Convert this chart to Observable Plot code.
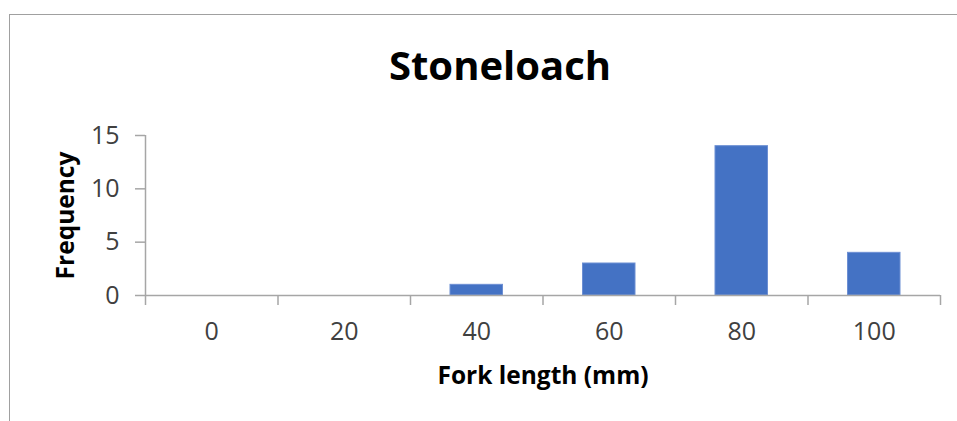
<!DOCTYPE html>
<html><head><meta charset="utf-8">
<script src="https://cdn.jsdelivr.net/npm/d3@7"></script>
<script src="https://cdn.jsdelivr.net/npm/@observablehq/plot@0.6"></script>
<style>
body{margin:0;background:#fff;overflow:hidden;}
#wrap{position:relative;width:957px;height:421px;overflow:hidden;}
#border{position:absolute;left:9px;top:14px;width:1000px;height:500px;border:1.5px solid #a0a0a0;box-sizing:border-box;}
#chart{position:absolute;left:0;top:0;}
</style></head><body>
<div id="wrap"><div id="border"></div><div id="chart"></div></div>
<script>
const title = "Stoneloach";
const xLabel = "Fork length (mm)";
const yLabel = "Frequency";
const categories = [0, 20, 40, 60, 80, 100];
const frequency = [0, 0, 1, 3, 14, 4];
const yTicks = [0, 5, 10, 15];
const binEdges = [-10, 10, 30, 50, 70, 90, 110];
const binHalf = 10;

const data = categories.map((c, i) => ({bin: c, freq: frequency[i]}));
const axisColor = "#a6a6a6";
const tickText = "#404040";

const plot = Plot.plot({
  width: 957, height: 421,
  marginLeft: 145, marginRight: 17, marginTop: 135, marginBottom: 126,
  style: {fontFamily: "'Open Sans', sans-serif", background: "transparent", overflow: "visible"},
  x: {domain: [binEdges[0], binEdges[binEdges.length - 1]]},
  y: {domain: [0, 15]},
  marks: [
    Plot.rectY(data.filter(d => d.freq > 0), {x1: d => d.bin - binHalf, x2: d => d.bin + binHalf, y: "freq",
      fill: "#4472C4", stroke: "#6d8fd3", strokeWidth: 1, insetLeft: 40, insetRight: 40}),
    Plot.ruleY([0], {stroke: axisColor, strokeWidth: 1.5}),
    Plot.ruleX([binEdges[0]], {y1: 0, y2: 15, stroke: axisColor, strokeWidth: 1.5}),
    Plot.axisY({ticks: yTicks, tickSize: 10, tickPadding: 16, fontSize: 25, stroke: axisColor, fill: tickText, strokeWidth: 1.5, label: null}),
    Plot.axisX({ticks: binEdges, tickSize: 10, tickFormat: () => "", stroke: axisColor, strokeWidth: 1.5, label: null}),
    Plot.axisX({ticks: categories, tickSize: 0, tickPadding: 27, fontSize: 25, fill: tickText, label: null}),
    Plot.text([title], {frameAnchor: "top", lineAnchor: "middle", dy: -68, dx: -43, fontSize: 40, fontWeight: "bold", fill: "#000", letterSpacing: "1.3px"}),
    Plot.text([xLabel], {frameAnchor: "bottom", lineAnchor: "middle", dy: 80.5, fontSize: 24.5, fontWeight: "bold", fill: "#000"}),
    Plot.text([yLabel], {frameAnchor: "left", lineAnchor: "middle", textAnchor: "middle", rotate: -90, dx: -79.5, fontSize: 24.5, fontWeight: "bold", fill: "#000"})
  ]
});
document.getElementById("chart").appendChild(plot);
</script>
</body></html>
